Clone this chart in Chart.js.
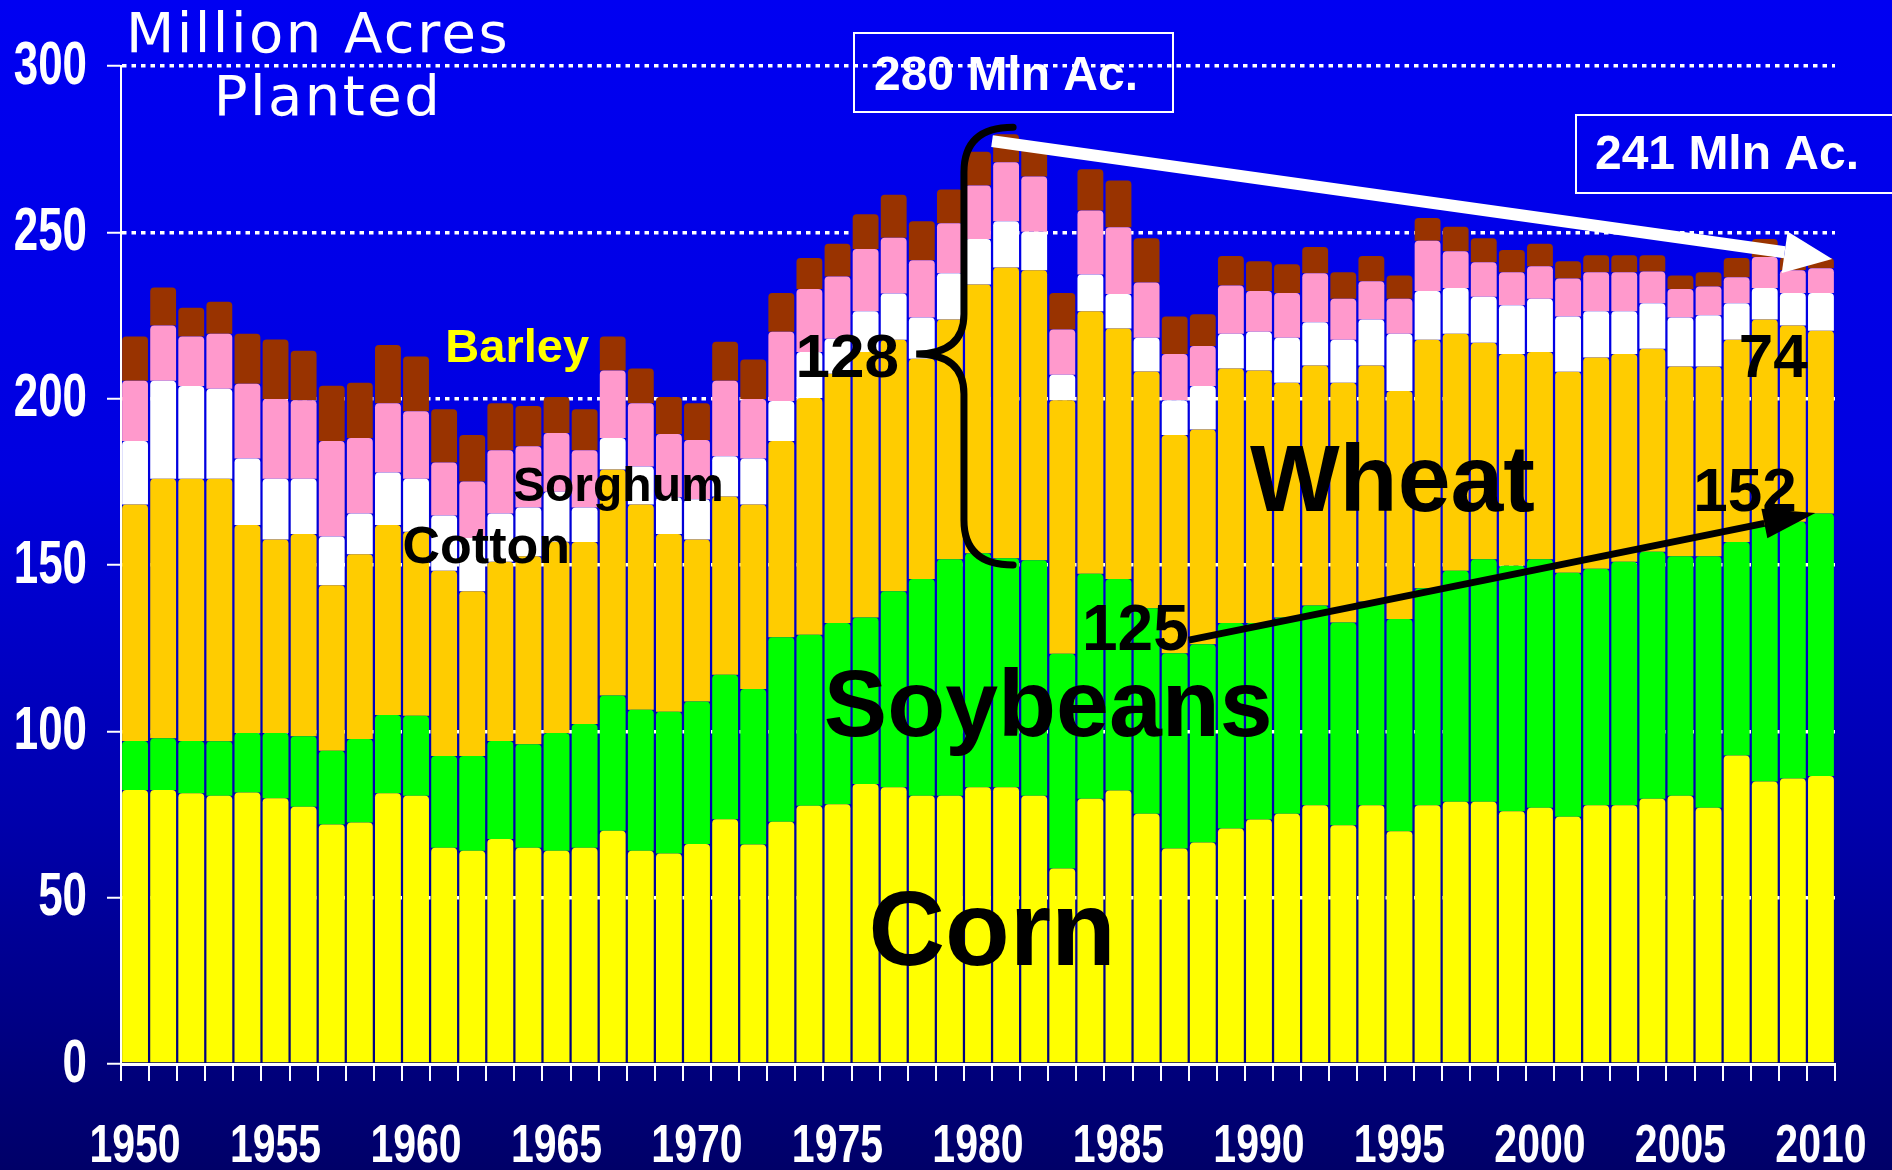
<!DOCTYPE html>
<html>
<head>
<meta charset="utf-8">
<title>Million Acres Planted</title>
<script src="https://cdn.jsdelivr.net/npm/chart.js@4"></script>
<style>
  html, body { margin: 0; padding: 0; }
  body {
    width: 1892px; height: 1170px; overflow: hidden;
    background: linear-gradient(to bottom, #0000f2 0%, #0000e0 40%, #0000ac 70%, #000068 100%);
  }
  canvas { display: block; }
</style>
</head>
<body>
<canvas id="myChart" width="1892" height="1170"></canvas>
<script>
// planted area, million acres
const years = ['1950','1951','1952','1953','1954','1955','1956','1957','1958','1959',
  '1960','1961','1962','1963','1964','1965','1966','1967','1968','1969',
  '1970','1971','1972','1973','1974','1975','1976','1977','1978','1979',
  '1980','1981','1982','1983','1984','1985','1986','1987','1988','1989',
  '1990','1991','1992','1993','1994','1995','1996','1997','1998','1999',
  '2000','2001','2002','2003','2004','2005','2006','2007','2008','2009','2010'];

const corn = [82.4,82.4,81.4,80.6,81.6,79.9,77.3,72.0,72.6,81.4,
  80.6,65.0,64.1,67.6,65.0,64.1,65.0,70.1,64.1,63.3,
  66.1,73.6,66.0,72.8,77.6,78.1,84.2,83.2,80.6,80.6,
  83.2,83.2,80.6,58.8,79.7,82.2,75.2,64.8,66.6,70.8,
  73.5,75.2,77.8,71.8,77.8,70.0,77.8,78.8,78.8,76.0,
  77.0,74.3,77.8,77.8,79.7,80.6,77.0,92.7,84.9,85.8,86.6];

const soybeans = [14.7,15.5,15.7,16.4,17.9,19.6,21.2,22.2,25.1,23.5,
  24.1,27.6,28.5,29.5,31.1,35.4,37.2,40.7,42.4,42.6,
  42.9,43.4,46.7,55.5,51.4,54.5,50.0,58.9,65.2,71.1,
  70.3,68.8,70.8,64.5,67.7,63.6,61.8,58.7,59.6,61.8,
  59.1,59.0,60.0,60.9,61.2,63.8,65.2,69.5,72.9,73.8,
  74.7,73.4,71.1,73.2,74.3,72.0,75.6,64.2,77.1,77.2,78.9];

const wheat = [71.1,78.0,78.8,78.9,62.5,58.2,60.8,49.7,55.5,57.1,
  55.3,55.7,49.5,53.9,56.5,57.5,54.7,67.9,61.7,53.4,
  48.7,53.6,55.5,59.0,71.2,74.9,79.8,75.6,66.2,72.1,
  80.8,87.4,87.2,76.2,78.9,75.3,71.2,65.6,64.5,76.5,
  75.9,70.6,72.2,72.1,71.0,68.5,74.7,71.2,65.1,63.6,
  62.3,60.4,63.5,62.4,61.0,57.1,57.1,60.8,61.8,59.0,54.9];

const cotton = [19.1,29.5,27.9,27.1,20.0,18.2,16.6,14.7,12.3,15.8,
  15.9,16.6,16.0,14.5,14.7,15.0,10.4,9.5,11.4,11.1,
  12.1,12.1,13.8,12.0,13.8,10.5,12.3,13.9,12.4,13.9,
  13.7,13.9,11.6,7.7,11.0,10.4,10.1,10.4,13.1,10.4,
  11.6,13.5,13.0,12.9,13.8,17.2,14.7,13.8,13.8,14.7,
  16.0,16.6,13.9,12.9,13.7,14.7,15.4,11.0,9.5,9.8,11.4];

const sorghum = [18.1,16.6,14.9,16.5,22.5,24.0,23.6,28.7,22.7,20.8,
  20.3,15.9,17.0,19.0,18.4,17.7,17.2,20.3,19.0,19.0,
  17.8,22.7,17.9,20.8,19.0,18.7,18.7,16.8,17.2,15.0,
  16.1,17.8,16.6,13.6,19.3,20.0,16.6,13.9,12.0,14.5,
  12.3,13.5,14.7,12.3,11.5,10.5,15.1,11.0,10.4,9.9,
  9.8,11.4,11.7,11.7,9.5,8.6,8.6,7.8,9.3,6.8,7.4];

const barley = [13.3,11.4,8.6,9.6,15.0,17.9,14.9,16.6,16.6,17.5,
  16.5,16.0,14.0,14.1,12.1,10.8,12.3,10.2,10.5,11.1,
  11.0,11.7,11.9,11.7,9.3,9.9,10.4,12.9,11.7,10.2,
  10.1,8.4,9.9,11.0,12.4,14.1,13.3,11.3,9.6,8.9,
  8.9,8.6,7.9,8.0,7.6,7.0,6.8,7.4,7.2,6.7,
  6.8,5.2,5.1,5.1,4.9,4.0,4.3,5.8,5.4,3.9,3.1];

const yTicks = [0, 50, 100, 150, 200, 250, 300];
const labeledYears = ['1950','1955','1960','1965','1970','1975','1980','1985','1990','1995','2000','2005','2010'];

const BOLD = "'Liberation Sans', Arial, sans-serif";

// callouts, placed in data units (x = year index from 1950, y = million acres)
const notes = {
  barley:   { text: 'Barley',   x: 13.6, y: 214.8, size: 47, color: '#ffff00' },
  sorghum:  { text: 'Sorghum',  x: 17.2, y: 173.3, size: 48, color: '#000' },
  cotton:   { text: 'Cotton',   x: 12.5, y: 155.0, size: 52, color: '#000' },
  n128:     { text: '128',      x: 25.35, y: 211.7, size: 62, color: '#000' },
  n74:      { text: '74',       x: 58.3, y: 211.7, size: 62, color: '#000' },
  n152:     { text: '152',      x: 57.3, y: 171.4, size: 62, color: '#000' },
  n125:     { text: '125',      x: 35.6, y: 129.9, size: 64, color: '#000' },
  wheat:    { text: 'Wheat',    x: 44.75, y: 174.2, size: 95, color: '#000' },
  soybeans: { text: 'Soybeans', x: 32.5, y: 106.4, size: 95, color: '#000' },
  corn:     { text: 'Corn',     x: 30.5, y: 38.5, size: 106, color: '#000' }
};

function arrow(ctx, x1, y1, x2, y2, width, headLen, headHalf, color) {
  const a = Math.atan2(y2 - y1, x2 - x1);
  const bx = x2 - headLen * Math.cos(a), by = y2 - headLen * Math.sin(a);
  ctx.strokeStyle = color;
  ctx.fillStyle = color;
  ctx.lineWidth = width;
  ctx.lineCap = 'butt';
  ctx.beginPath();
  ctx.moveTo(x1, y1);
  ctx.lineTo(bx, by);
  ctx.stroke();
  ctx.beginPath();
  ctx.moveTo(x2, y2);
  ctx.lineTo(bx + headHalf * Math.sin(a), by - headHalf * Math.cos(a));
  ctx.lineTo(bx - headHalf * Math.sin(a), by + headHalf * Math.cos(a));
  ctx.closePath();
  ctx.fill();
}

// condensed bold tick labels (no narrow font installed, so squeeze the normal one)
function squeezed(ctx, text, x, y, sx) {
  ctx.save();
  ctx.translate(x, y);
  ctx.scale(sx, 1);
  ctx.fillText(text, 0, 0);
  ctx.restore();
}

const axisLabels = {
  id: 'axisLabels',
  afterDraw(chart) {
    const ctx = chart.ctx;
    const xs = chart.scales.x, ys = chart.scales.y;
    ctx.save();
    ctx.fillStyle = '#fff';
    ctx.font = 'bold 54px ' + BOLD;
    ctx.textAlign = 'center';
    ctx.textBaseline = 'alphabetic';
    xs.ticks.forEach((t, i) => {
      const lab = years[i];
      if (labeledYears.includes(lab)) squeezed(ctx, lab, xs.getPixelForTick(i), 1162, 0.76);
    });
    ctx.font = 'bold 61px ' + BOLD;
    ctx.textAlign = 'right';
    ctx.textBaseline = 'middle';
    ys.ticks.forEach(t => {
      squeezed(ctx, String(t.value), 87, ys.getPixelForValue(t.value) + 1, 0.72);
    });
    ctx.restore();
  }
};

const slideNotes = {
  id: 'slideNotes',
  afterDatasetsDraw(chart) {
    const ctx = chart.ctx;
    const xs = chart.scales.x, ys = chart.scales.y;
    const x0 = xs.getPixelForValue(0);
    const step = xs.getPixelForValue(1) - x0;
    const px = i => x0 + i * step;
    const py = v => ys.getPixelForValue(v);
    ctx.save();

    // title
    ctx.fillStyle = '#fff';
    ctx.font = "56px 'DejaVu Sans', Verdana, sans-serif";
    ctx.textAlign = 'center';
    ctx.textBaseline = 'alphabetic';
    ctx.letterSpacing = '2.5px';
    ctx.fillText('Million Acres', 318, 52);
    ctx.fillText('Planted', 328, 115);
    ctx.letterSpacing = '0px';

    // total boxes
    ctx.strokeStyle = '#fff';
    ctx.lineWidth = 2;
    ctx.strokeRect(854, 33, 319, 79);
    ctx.strokeRect(1576, 115, 330, 78);
    ctx.font = 'bold 48px ' + BOLD;
    ctx.textBaseline = 'middle';
    ctx.fillText('280 Mln Ac.', 1006, 77);
    ctx.fillText('241 Mln Ac.', 1727, 156);

    // brace around 1980 wheat + minor crops
    const xe = px(31.25), xm = px(29.5), xt = px(27.8);
    const yt = py(281.6), yb = py(150), ym = py(213.4);
    ctx.strokeStyle = '#000';
    ctx.lineWidth = 7;
    ctx.lineCap = 'round';
    ctx.beginPath();
    ctx.moveTo(xe, yt);
    ctx.quadraticCurveTo(xm, yt, xm, yt + 45);
    ctx.lineTo(xm, ym - 40);
    ctx.quadraticCurveTo(xm, ym, xt, ym);
    ctx.quadraticCurveTo(xm, ym, xm, ym + 40);
    ctx.lineTo(xm, yb - 45);
    ctx.quadraticCurveTo(xm, yb, xe, yb);
    ctx.stroke();

    // trend arrows
    arrow(ctx, px(30.5), py(277.4), px(60.4), py(242.0), 12, 48, 21, '#fff');
    arrow(ctx, px(37.5), py(127.4), px(59.8), py(165.6), 7, 52, 15, '#000');

    // crop labels
    ctx.textAlign = 'center';
    ctx.textBaseline = 'middle';
    Object.values(notes).forEach(n => {
      ctx.font = 'bold ' + n.size + 'px ' + BOLD;
      ctx.fillStyle = n.color;
      ctx.fillText(n.text, px(n.x), py(n.y));
    });
    ctx.restore();
  }
};

const segRadius = { topLeft: 4, topRight: 4, bottomLeft: 0, bottomRight: 0 };
function series(label, data, color) {
  return {
    label: label,
    data: data,
    backgroundColor: color,
    borderWidth: 0,
    borderRadius: segRadius,
    borderSkipped: false,
    barPercentage: 0.92,
    categoryPercentage: 1.0
  };
}

const ctx = document.getElementById('myChart');
const myChart = new Chart(ctx, {
  type: 'bar',
  data: {
    labels: years,
    datasets: [
      series('Corn', corn, '#ffff00'),
      series('Soybeans', soybeans, '#00ff00'),
      series('Wheat', wheat, '#ffcc00'),
      series('Cotton', cotton, '#ffffff'),
      series('Sorghum', sorghum, '#ff99cc'),
      series('Barley', barley, '#993300')
    ]
  },
  options: {
    responsive: false,
    animation: false,
    devicePixelRatio: 1,
    layout: { padding: { top: 66, right: 57, left: 0, bottom: 0 } },
    plugins: {
      legend: { display: false },
      tooltip: { enabled: false }
    },
    scales: {
      x: {
        stacked: true,
        afterFit: s => { s.height = 106; },
        grid: {
          offset: true,
          drawOnChartArea: false,
          drawTicks: true,
          tickLength: 17,
          color: '#ffffff',
          lineWidth: 2
        },
        border: { display: true, color: '#ffffff', width: 3, z: 1 },
        ticks: { display: false, autoSkip: false }
      },
      y: {
        stacked: true,
        min: 0,
        max: 300,
        afterFit: s => { s.width = 121; },
        afterBuildTicks: s => { s.ticks = yTicks.map(v => ({ value: v })); },
        grid: {
          // no dotted line on the zero line, the solid axis sits there
          color: c => (c.tick && c.tick.value === 0) ? 'rgba(0,0,0,0)' : '#ffffff',
          tickColor: '#ffffff',
          lineWidth: 3.5,
          tickBorderDash: [],
          tickLength: 14,
          tickWidth: 2
        },
        border: { display: true, color: '#ffffff', width: 2, dash: [4.5, 5] },
        ticks: { display: false }
      }
    }
  },
  plugins: [slideNotes, axisLabels]
});
</script>
</body>
</html>
